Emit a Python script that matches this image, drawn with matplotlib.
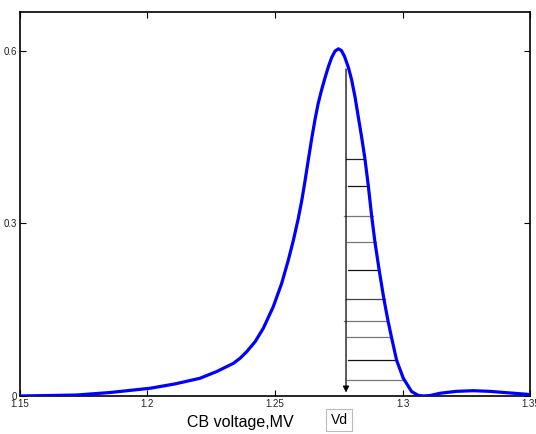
import matplotlib
matplotlib.use("Agg")
import matplotlib.pyplot as plt

plt.rcParams["font.family"] = ["Liberation Sans", "DejaVu Sans"]

# Curve data (CB voltage in MV vs response)
volt = [1.1502, 1.1619, 1.1724, 1.1854, 1.2011, 1.2109, 1.2206, 1.2272, 1.2337,
        1.2363, 1.2389, 1.2422, 1.2454, 1.2493, 1.2526, 1.2552, 1.2572, 1.2591,
        1.2605, 1.2617, 1.2630, 1.2644, 1.2657, 1.2669, 1.2682, 1.2696, 1.2709,
        1.2722, 1.2735, 1.2748, 1.2760, 1.2772, 1.2787, 1.2800, 1.2813, 1.2826,
        1.2839, 1.2852, 1.2865, 1.2878, 1.2891, 1.2908, 1.2926, 1.2943, 1.2957,
        1.2976, 1.3002, 1.3035, 1.3061, 1.3080, 1.3107, 1.3146, 1.3208, 1.3276,
        1.3342, 1.3407, 1.3485, 1.3500]
resp = [0.0000, 0.0008, 0.0017, 0.0060, 0.0134, 0.0210, 0.0307, 0.0425, 0.0567,
        0.0654, 0.0768, 0.0942, 0.1174, 0.1548, 0.1954, 0.2358, 0.2705, 0.3080,
        0.3400, 0.3720, 0.4090, 0.4480, 0.4810, 0.5080, 0.5310, 0.5530, 0.5720,
        0.5880, 0.5990, 0.6030, 0.6000, 0.5900, 0.5710, 0.5490, 0.5200, 0.4850,
        0.4500, 0.4120, 0.3660, 0.3140, 0.2680, 0.2180, 0.1690, 0.1290, 0.1000,
        0.0620, 0.0310, 0.0075, 0.0010, 0.0000, 0.0008, 0.0047, 0.0080, 0.0092,
        0.0080, 0.0057, 0.0030, 0.0020]

# Vd arrow
vd_x = 1.2778
vd_top = 0.568
vd_bottom = 0.006

# Hatch lines (levels and their end voltages)
hatch_y = [0.412, 0.365, 0.313, 0.268, 0.218, 0.168, 0.130, 0.102, 0.062, 0.028]
hatch_x0 = [1.2778, 1.2785, 1.2770, 1.2780, 1.2785, 1.2778, 1.2770, 1.2780, 1.2785, 1.2780]
hatch_x1 = [1.2848, 1.2865, 1.2882, 1.2895, 1.2908, 1.2931, 1.2943, 1.2953, 1.2972, 1.3005]
hatch_col = ["#222222", "#111111", "#777777", "#777777", "#111111",
             "#444444", "#777777", "#777777", "#111111", "#777777"]

xticks = [1.15, 1.2, 1.25, 1.3, 1.35]
xticklabels = ["1.15", "1.2", "1.25", "1.3", "1.35"]
yticks = [0, 0.3, 0.6]
yticklabels = ["0", "0.3", "0.6"]

fig = plt.figure(figsize=(5.36, 4.34), dpi=100)
ax = fig.add_axes([0.0364, 0.0876, 0.9533, 0.8848])

ax.plot(volt, resp, color=(0, 0, 1), lw=2.3, solid_capstyle="round",
        solid_joinstyle="round", zorder=3)

for y, x0, x1, c in zip(hatch_y, hatch_x0, hatch_x1, hatch_col):
    ax.plot([x0, x1], [y, y], color=c, lw=0.9, zorder=2)

ax.annotate("", xy=(vd_x, vd_bottom), xytext=(vd_x, vd_top),
            arrowprops=dict(arrowstyle="-|>", color="black", lw=0.9,
                            mutation_scale=9, shrinkA=0, shrinkB=0), zorder=2)

ax.set_xlim(1.15, 1.35)
ax.set_ylim(0, 0.667)
ax.set_xticks(xticks)
ax.set_xticklabels(xticklabels)
ax.set_yticks(yticks)
ax.set_yticklabels(yticklabels)
ax.tick_params(direction="in", length=4, width=0.8, labelsize=7,
               top=True, right=True, pad=2, labelcolor="#222222")
for s in ax.spines.values():
    s.set_linewidth(1.2)

fig.text(240 / 536, 1 - 423 / 434, "CB voltage,MV", ha="center", va="center",
         fontsize=11.5)
fig.text(339 / 536, 1 - 420 / 434, "Vd", ha="center", va="center", fontsize=10,
         bbox=dict(boxstyle="square,pad=0.3", fc="white", ec="#bbbbbb", lw=0.8))

fig.savefig("out.png", dpi=100)
